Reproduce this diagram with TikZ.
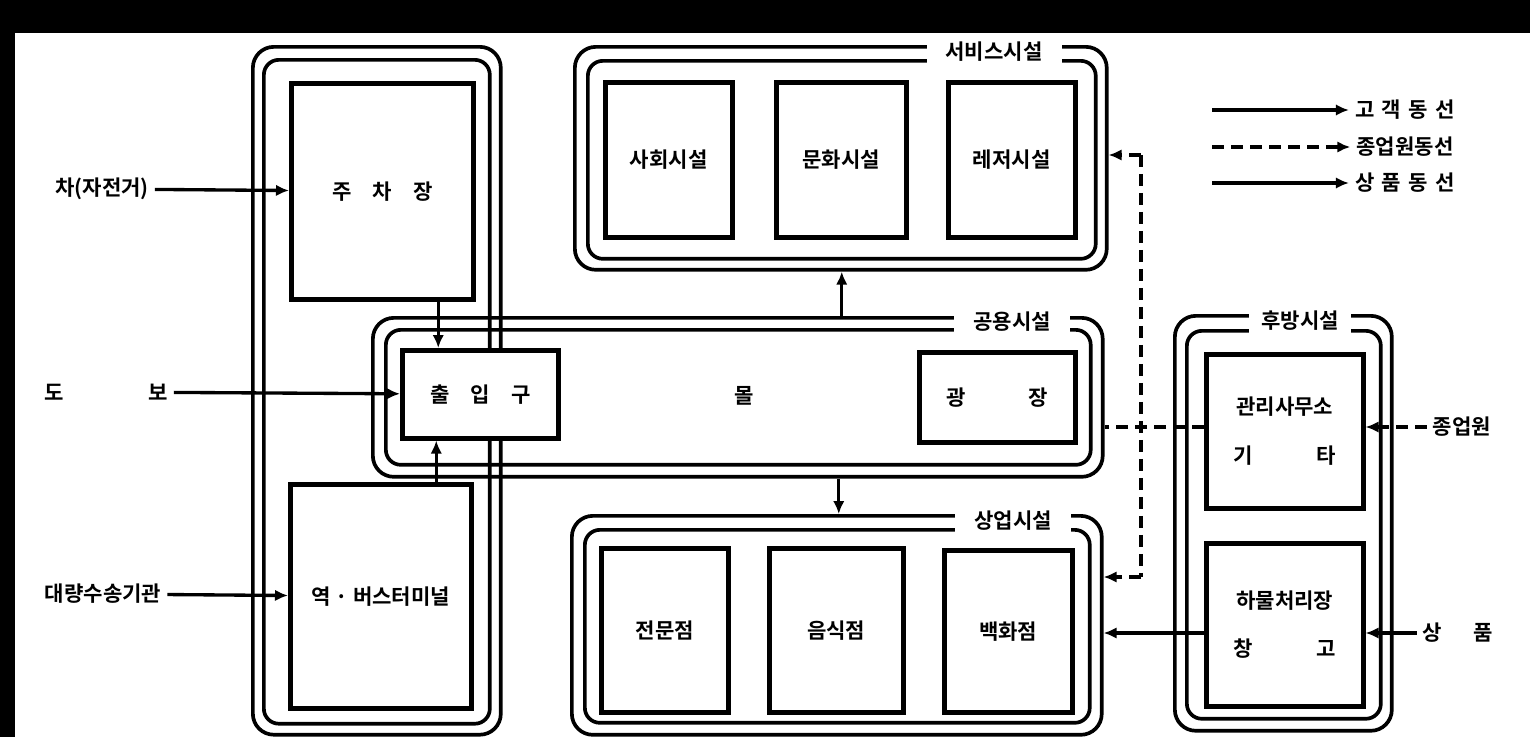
\documentclass[tikz,border=0pt]{standalone}
\usepackage{fontspec}
\setmainfont{Noto Sans CJK KR}[BoldFont={Noto Sans CJK KR Bold}]
\usetikzlibrary{arrows.meta}
\usetikzlibrary{positioning}

\begin{document}
\begin{tikzpicture}[x=0.02cm,y=-0.02cm,font=\fontsize{12}{14}\selectfont\bfseries]

		\tikzstyle{box} = [rectangle, draw, line width=2.6pt, fill=white, anchor=north west, inner sep=0pt]
		\tikzstyle{frame} = [rectangle, draw, line width=2.1pt, rounded corners=0.42cm, anchor=north west, inner sep=0pt]
		\tikzstyle{iframe} = [frame, rounded corners=0.3cm]
		\tikzstyle{title} = [fill=white, inner xsep=0.38cm, inner ysep=0.04cm, minimum height=0.56cm]
		\tikzstyle{line} = [draw, line width=1.9pt, -{Latex[length=2.6mm,width=2.3mm]}]
		\tikzstyle{dline} = [line, dash pattern=on 2.4mm off 1.4mm]

		% page
		\fill[black] (0,0) rectangle (1530,737);
		\fill[white] (15,33) rectangle (1530,737);
		\useasboundingbox (0,0) rectangle (1530,737);

		% left column
		\node [frame,minimum width=4.96cm,minimum height=13.76cm] (leftO) at (251,45) {};
		\node [iframe,minimum width=4.52cm,minimum height=13.28cm] (leftI) at (262,58) {};
		\node [box,minimum width=3.64cm,minimum height=4.32cm] (park) at (289,81) {};
		\node at (park.center) {주\quad 차\quad 장};
		\node [box,minimum width=3.62cm,minimum height=4.48cm] (term) at (288,482) {};
		\node at (term.center) {역 · 버스터미널};

		% common
		\node [frame,minimum width=14.6cm,minimum height=3.18cm] (cenO) at (371,316) {};
		\node [iframe,minimum width=14.1cm,minimum height=2.7cm] (cenI) at (384,328) {};
		\node [title] (cenT) at (1012,322) {공용시설};
		\node [box,minimum width=3.12cm,minimum height=1.76cm] (ent) at (400,348) {};
		\node at (ent.center) {출\quad 입\quad 구};
		\node (mall) at (744,396) {몰};
		\node [box,minimum width=3.12cm,minimum height=1.8cm] (plaza) at (917,350) {};
		\node at (plaza.center) {광\hspace{3em}장};

		% service
		\node [frame,minimum width=10.64cm,minimum height=4.46cm] (svcO) at (573,45) {};
		\node [iframe,minimum width=10.16cm,minimum height=3.96cm] (svcI) at (586,59) {};
		\node [title] (svcT) at (994,52) {서비스시설};
		\node [box,minimum width=2.54cm,minimum height=3.1cm] (svc1) at (603,80) {};
		\node at (svc1.center) {사회시설};
		\node [box,minimum width=2.6cm,minimum height=3.1cm] (svc2) at (774,80) {};
		\node at (svc2.center) {문화시설};
		\node [box,minimum width=2.54cm,minimum height=3.1cm] (svc3) at (946,80) {};
		\node at (svc3.center) {레저시설};

		% commercial
		\node [frame,minimum width=10.6cm,minimum height=4.38cm] (comO) at (570,514) {};
		\node [iframe,minimum width=10.1cm,minimum height=3.86cm] (comI) at (583,528) {};
		\node [title] (comT) at (1013,521) {상업시설};
		\node [box,minimum width=2.54cm,minimum height=3.28cm] (com1) at (599,546) {};
		\node at (com1.center) {전문점};
		\node [box,minimum width=2.68cm,minimum height=3.28cm] (com2) at (767,546) {};
		\node at (com2.center) {음식점};
		\node [box,minimum width=2.56cm,minimum height=3.24cm] (com3) at (942,548) {};
		\node at (com3.center) {백화점};

		% rear
		\node [frame,minimum width=4.34cm,minimum height=8.3cm] (rearO) at (1173,314) {};
		\node [iframe,minimum width=3.88cm,minimum height=7.76cm] (rearI) at (1185,329) {};
		\node [title,inner xsep=0.25cm] (rearT) at (1300,321) {후방시설};
		\node [box,minimum width=3.14cm,minimum height=3.08cm] (rear1) at (1204,352) {};
		\node [align=center] at (rear1.center) {관리사무소\\[0.48cm]기\hspace{3em}타};
		\node [box,minimum width=3.14cm,minimum height=3.26cm] (rear2) at (1204,541) {};
		\node [align=center] at (rear2.center) {하물처리장\\[0.48cm]창\hspace{3em}고};

		% legend
		\node (lg1) at (1405,110) {고\hspace{0.35em}객\hspace{0.35em}동\hspace{0.35em}선};
		\node (lg2) at (1405,147) {종업원동선};
		\node (lg3) at (1405,183) {상\hspace{0.35em}품\hspace{0.35em}동\hspace{0.35em}선};
		\coordinate (lg1s) at (1212,110);
		\coordinate (lg2s) at (1212,147);
		\coordinate (lg3s) at (1212,183);
		\draw [line] (lg1s) -- (lg1.west);
		\draw [dline] (lg2s) -- (lg2.west);
		\draw [line] (lg3s) -- (lg3.west);

		% customers
		\node (car) at (102,189) {차(자전거)};
		\node (walk) at (106,392) {도\hspace{4em}보};
		\node (mass) at (103,594) {대량수송기관};
		\draw [line] (car) -- (park);
		\draw [line] (walk) -- (ent);
		\draw [line] (mass) -- (term);
		\draw [line] ([xshift=1.12cm]park.south) -- ([xshift=1.12cm]park.south |- ent.north);
		\draw [line] ([xshift=1.11cm]term.north) -- ([xshift=1.11cm]term.north |- ent.south);
		\draw [line] ([xshift=2.08cm]cenO.north) -- ([xshift=2.08cm]cenO.north |- svcO.south);
		\draw [line] ([xshift=2.02cm]cenO.south) -- ([xshift=2.02cm]cenO.south |- comO.north);

		% employees
		\node (emp) at (1462,427) {종업원};
		\coordinate (ejoin) at (1141,427);
		\coordinate (etop) at (1141,155);
		\coordinate (ebot) at (1141,577);
		\draw [dline] (emp) -- (emp -| rear1.east);
		\draw [dline,-] (rear1.west |- ejoin) -- (ejoin -| cenO.east);
		\draw [dline,-] (etop) -- (ebot);
		\draw [dline] (etop) -- (etop -| svcO.east);
		\draw [dline] (ebot) -- (ebot -| comO.east);

		% goods
		\node (goods) at (1458,633) {상\hspace{1.5em}품};
		\draw [line] (goods) -- (goods -| rear2.east);
		\draw [line] (rear2.west |- goods) -- (goods -| comO.east);

\end{tikzpicture}
\end{document}
